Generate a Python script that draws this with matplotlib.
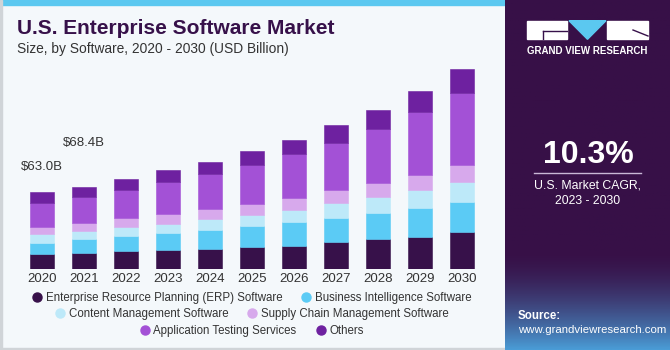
import matplotlib
matplotlib.use("Agg")
import matplotlib.pyplot as plt
import numpy as np
from matplotlib.patches import Rectangle, Polygon
from matplotlib.lines import Line2D

plt.rcParams['font.family'] = ['Liberation Sans', 'DejaVu Sans']

# data (USD billion)
years = ["2020", "2021", "2022", "2023", "2024", "2025",
         "2026", "2027", "2028", "2029", "2030"]
erp = [12.3, 13.4, 14.6, 15.7, 16.8, 18.2, 19.3, 22.0, 24.5, 26.4, 30.5]
bi = [9.5, 11.5, 12.9, 14.3, 15.7, 17.1, 19.3, 20.1, 21.2, 23.9, 24.5]
cms = [7.4, 6.5, 7.4, 7.4, 8.3, 9.1, 10.2, 11.8, 13.2, 14.6, 16.2]
scm = [5.7, 6.8, 7.4, 7.7, 8.3, 9.1, 9.4, 11.0, 11.6, 12.1, 14.3]
app = [19.6, 21.3, 22.8, 26.7, 28.9, 31.9, 35.8, 38.5, 44.0, 51.4, 58.9]
others = [8.5, 7.6, 8.5, 9.6, 10.2, 11.0, 12.1, 14.3, 16.2, 17.6, 19.8]
labels = ["Enterprise Resource Planning (ERP) Software",
          "Business Intelligence Software",
          "Content Management Software",
          "Supply Chain Management Software",
          "Application Testing Services",
          "Others"]
colors = ["#37114a", "#5bcbf5", "#bde9f9", "#d7a9ec", "#a351d6", "#6e21a0"]
callouts = {0: "$63.0B", 1: "$68.4B"}
callout_y = {0: 84, 1: 103}

W, H = 670, 350
fig = plt.figure(figsize=(6.7, 3.5), dpi=100)
fig.patch.set_facecolor("#f4f8fb")

def px(x, y, w, h):
    # pixel box (top-left origin) -> figure fraction rect
    return [x / W, 1 - (y + h) / H, w / W, h / H]

# frame bits
fig.add_artist(Rectangle((0, 1 - 5 / H), 505 / W, 5 / H, transform=fig.transFigure,
                         color="#5bc8f0", zorder=0))
fig.add_artist(Rectangle((0, 0), 2 / W, 1, transform=fig.transFigure,
                         color="#d0d4d8", zorder=0))
fig.add_artist(Rectangle((0, 0), 505 / W, 2 / H, transform=fig.transFigure,
                         color="#d0d4d8", zorder=0))

# main chart
ax = fig.add_axes(px(21, 49.3, 462, 220))
ax.set_facecolor("none")
x = np.arange(len(years))
series = [erp, bi, cms, scm, app, others]
bottom = np.zeros(len(years))
handles = []
for vals, col, lab in zip(series, colors, labels):
    ax.bar(x, vals, width=0.58, bottom=bottom, color=col,
           edgecolor=col, linewidth=0.4, zorder=2)
    bottom += np.array(vals)
    handles.append(Line2D([], [], marker="o", linestyle="", markersize=6.5,
                          markerfacecolor=col, markeredgecolor=col, label=lab))
for i, txt in callouts.items():
    ax.text(x[i], callout_y[i], txt, ha="center", va="center",
            fontsize=9.5, color="#333333")
ax.set_xlim(-0.5, len(years) - 0.5)
ax.set_ylim(0, 180)
ax.set_xticks(x)
ax.set_xticklabels(years, fontsize=9.5, color="#333333")
ax.tick_params(axis="x", length=0, pad=3)
ax.set_yticks([])
for s in ax.spines.values():
    s.set_visible(False)

# legend: three centred rows
rows = [(0, 1), (2, 3), (4, 5)]
row_y = [298.3, 314.3, 330.7]
for (a, b), yy in zip(rows, row_y):
    leg = fig.legend(handles=[handles[a], handles[b]], ncol=2, loc="center",
                     bbox_to_anchor=(252 / W, 1 - yy / H), frameon=False,
                     fontsize=8.3, handletextpad=0.35, columnspacing=1.7,
                     handlelength=0.8, borderpad=0, labelcolor="#333333")

# titles
fig.text(17 / W, 1 - 29 / H, "U.S. Enterprise Software Market", fontsize=15,
         fontweight="bold", color="#37114a", va="center", ha="left")
fig.text(17 / W, 1 - 49 / H, "Size, by Software, 2020 - 2030 (USD Billion)",
         fontsize=9.9, color="#333333", va="center", ha="left")

# sidebar
side = fig.add_axes(px(505, 0, 165, 350))
side.set_xlim(0, 1)
side.set_ylim(0, 1)
side.axis("off")
grad = np.linspace(0, 1, 256).reshape(-1, 1)
top_c = np.array([0x37, 0x10, 0x47]) / 255
bot_c = np.array([0x4a, 0x9c, 0xd6]) / 255
t = np.clip((grad - 0.72) / 0.28, 0, 1) ** 1.6
img = top_c * (1 - t[..., None]) + bot_c * t[..., None]
side.imshow(img, extent=[0, 1, 0, 1], aspect="auto", origin="upper", zorder=0)

# logo
fig.add_artist(Rectangle((527 / W, 1 - 39.3 / H), 40 / W, 18.6 / H,
                         transform=fig.transFigure, color="white"))
fig.add_artist(Rectangle((607 / W, 1 - 39.3 / H), 41 / W, 18.6 / H,
                         transform=fig.transFigure, color="white"))
fig.add_artist(Polygon([(569 / W, 1 - 20.7 / H), (606 / W, 1 - 20.7 / H),
                        (587.5 / W, 1 - 39.3 / H)], closed=True,
                       transform=fig.transFigure, color="#5bc8f0"))
fig.add_artist(Line2D([543 / W, 567 / W], [1 - 31 / H, 1 - 31 / H],
                      transform=fig.transFigure, color="#37114a", lw=1))
fig.add_artist(Line2D([543 / W, 543 / W], [1 - 31 / H, 1 - 39.3 / H],
                      transform=fig.transFigure, color="#37114a", lw=1))
fig.add_artist(Line2D([633 / W, 648 / W], [1 - 30 / H, 1 - 36 / H],
                      transform=fig.transFigure, color="#37114a", lw=1))
fig.text(587.5 / W, 1 - 50.7 / H, "GRAND VIEW RESEARCH", fontsize=7,
         fontweight="bold", color="white", ha="center", va="center")

fig.text(588 / W, 1 - 155 / H, "10.3%", fontsize=23, fontweight="bold",
         color="white", ha="center", va="center")
fig.add_artist(Line2D([534 / W, 641 / W], [1 - 173.3 / H, 1 - 173.3 / H],
                      transform=fig.transFigure, color="#c9b8d6", lw=1))
fig.text(588 / W, 1 - 185 / H, "U.S. Market CAGR,", fontsize=8.8,
         color="white", ha="center", va="center")
fig.text(588 / W, 1 - 201 / H, "2023 - 2030", fontsize=8.8,
         color="white", ha="center", va="center")
fig.text(518 / W, 1 - 316 / H, "Source:", fontsize=8.3, fontweight="bold",
         color="white", ha="left", va="center")
fig.text(518 / W, 1 - 330 / H, "www.grandviewresearch.com", fontsize=8.2,
         color="white", ha="left", va="center")

fig.savefig("out.png", dpi=100, facecolor=fig.get_facecolor())
